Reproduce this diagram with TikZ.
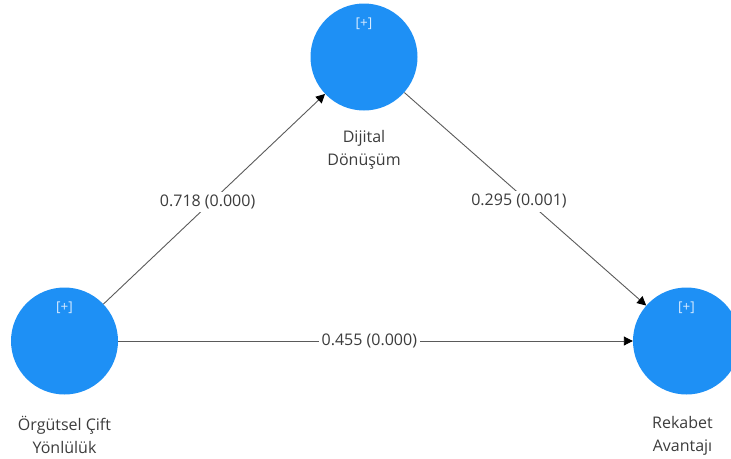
\documentclass[tikz,border=0pt]{standalone}
\usepackage{fontspec}
\setmainfont{Open Sans}
\usetikzlibrary{calc, positioning, arrows.meta}

\definecolor{lvblue}{RGB}{30,144,245}
\definecolor{lbgray}{RGB}{60,60,60}
\definecolor{plusgray}{RGB}{215,235,255}
\definecolor{linegray}{RGB}{90,90,90}

\begin{document}
\begin{tikzpicture}[x=1pt, y=-1pt,
    lv/.style={circle, fill=lvblue, minimum size=107pt, inner sep=0pt},
    lvname/.style={align=center, text=lbgray, inner sep=0pt, font=\fontsize{16}{23}\selectfont},
    plustxt/.style={text=plusgray, inner sep=0pt, font=\fontsize{13.5}{15}\selectfont},
    coef/.style={fill=white, text=lbgray, inner sep=3pt, font=\fontsize{16}{19}\selectfont},
    pathline/.style={draw=linegray, line width=0.9pt, -{Triangle[length=9pt, width=9pt, color=black]}}]
      \useasboundingbox (0,0) rectangle (731,458);

      % 1. 三個潛在變數（圓）
      \node[lv] (orgut) at (64.5,341) {};
      \node[lv] (dijital) at (364,57) {};
      \node[lv] (rekabet) at (686.5,341) {};

      % 2. 圓內的 [+]
      \node[plustxt] (orgutPlus) at ($(orgut.center)+(0,-33)$) {[+]};
      \node[plustxt] (dijitalPlus) at ($(dijital.center)+(0,-33)$) {[+]};
      \node[plustxt] (rekabetPlus) at ($(rekabet.center)+(0,-33)$) {[+]};

      % 3. 圓下方的名稱
      \node[lvname, below=21pt of orgut] (orgutName) {Örgütsel Çift\\Yönlülük};
      \node[lvname, below=19pt of dijital] (dijitalName) {Dijital\\Dönüşüm};
      \node[lvname, below=21pt of rekabet, xshift=-4pt] (rekabetName) {Rekabet\\Avantajı};

      % 4. 路徑與係數
      \draw[pathline] (orgut) -- (dijital)
        node[coef, pos=0.47, yshift=3pt] (coefOD) {0.718 (0.000)};
      \draw[pathline] (dijital) -- (rekabet)
        node[coef, pos=0.474, yshift=-8pt] (coefDR) {0.295 (0.001)};
      \draw[pathline] (orgut) -- (rekabet)
        node[coef, pos=0.488] (coefOR) {0.455 (0.000)};
    \end{tikzpicture}
\end{document}
